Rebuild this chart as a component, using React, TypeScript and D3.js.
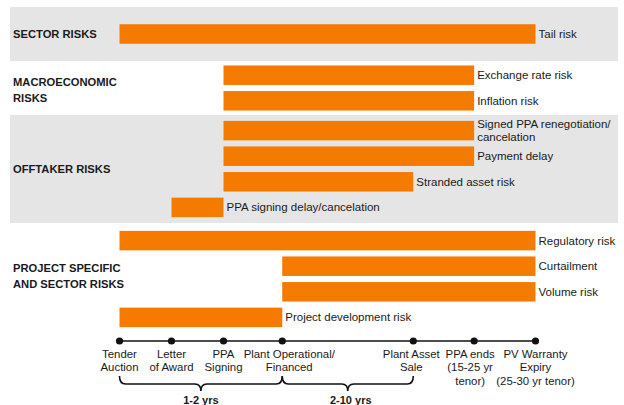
import React from "react";
import * as d3 from "d3";

// ---- Data ----
const milestoneNames = [
  "Tender Auction",
  "Letter of Award",
  "PPA Signing",
  "Plant Operational/Financed",
  "Plant Asset Sale",
  "PPA ends",
  "PV Warranty Expiry",
];
const milestoneLabelLines = [
  ["Tender", "Auction"],
  ["Letter", "of Award"],
  ["PPA", "Signing"],
  ["Plant Operational/", "Financed"],
  ["Plant Asset", "Sale"],
  ["PPA ends", "(15-25 yr", "tenor)"],
  ["PV Warranty", "Expiry", "(25-30 yr tenor)"],
];
// relative timeline position of each milestone (schematic units)
const milestoneTime = [0, 1, 2, 3.13, 5.65, 6.82, 8];

const groupNames = ["SECTOR RISKS", "MACROECONOMIC RISKS", "OFFTAKER RISKS", "PROJECT SPECIFIC AND SECTOR RISKS"];
const groupLabelLines = [
  ["SECTOR RISKS"],
  ["MACROECONOMIC", "RISKS"],
  ["OFFTAKER RISKS"],
  ["PROJECT SPECIFIC", "AND SECTOR RISKS"],
];

const riskNames = [
  "Tail risk",
  "Exchange rate risk",
  "Inflation risk",
  "Signed PPA renegotiation/cancelation",
  "Payment delay",
  "Stranded asset risk",
  "PPA signing delay/cancelation",
  "Regulatory risk",
  "Curtailment",
  "Volume risk",
  "Project development risk",
];
const riskLabelLines = [
  ["Tail risk"],
  ["Exchange rate risk"],
  ["Inflation risk"],
  ["Signed PPA renegotiation/", "cancelation"],
  ["Payment delay"],
  ["Stranded asset risk"],
  ["PPA signing delay/cancelation"],
  ["Regulatory risk"],
  ["Curtailment"],
  ["Volume risk"],
  ["Project development risk"],
];
const riskGroup = [0, 1, 1, 2, 2, 2, 2, 3, 3, 3, 3];
const riskStart = [0, 2, 2, 2, 2, 2, 1, 0, 3, 3, 0]; // milestone index
const riskEnd = [6, 5, 5, 5, 5, 4, 2, 6, 6, 6, 3]; // milestone index

const spanLabels = ["1-2 yrs", "2-10 yrs"];
const spanStart = [0, 3];
const spanEnd = [3, 4];

// ---- Layout / style ----
const W = 624;
const H = 405;
const ORANGE = "#f57a00";
const GRAY = "#e5e5e5";
const TEXT = "#1a1a1a";
const FONT = "'Liberation Sans', Arial, Helvetica, sans-serif";
const bandHeights = [54, 54, 108, 112];
const bandTop0 = 7;
const bandX0 = 10;
const bandX1 = 618;
const rowStep = 25.6;
const barH = 19.5;
const timelineY = 341;
const labelDx = [0, 0, 0, 7, -2, -4, 0];

export default function App() {
  const x = d3.scaleLinear().domain([0, 8]).range([119.5, 535.5]);

  const bandTops: number[] = [];
  let acc = bandTop0;
  bandHeights.forEach((h) => {
    bandTops.push(acc);
    acc += h;
  });

  const groupCounts = groupNames.map((_, g) => riskGroup.filter((r) => r === g).length);
  const rowInGroup = riskGroup.map((g, i) => riskGroup.slice(0, i).filter((r) => r === g).length);

  const barCenter = (i: number) => {
    const g = riskGroup[i];
    const c = bandTops[g] + bandHeights[g] / 2;
    const n = groupCounts[g];
    return c + (rowInGroup[i] - (n - 1) / 2) * rowStep;
  };

  const braceY0 = 376;
  const braceMid = 384;
  const braceTip = 391;
  const r = 6;
  const bracePath = (x0: number, x1: number) => {
    const m = (x0 + x1) / 2;
    const p = d3.path();
    p.moveTo(x0, braceY0);
    p.quadraticCurveTo(x0, braceMid, x0 + r, braceMid);
    p.lineTo(m - r, braceMid);
    p.quadraticCurveTo(m, braceMid, m, braceTip);
    p.quadraticCurveTo(m, braceMid, m + r, braceMid);
    p.lineTo(x1 - r, braceMid);
    p.quadraticCurveTo(x1, braceMid, x1, braceY0);
    return p.toString();
  };

  return (
    <svg
      width={W}
      height={H}
      style={{ position: "absolute", left: 0, top: 0, background: "#fff" }}
      fontFamily={FONT}
    >
      {/* bands */}
      {groupNames.map((g, gi) => (
        <rect
          key={g}
          x={bandX0}
          y={bandTops[gi]}
          width={bandX1 - bandX0}
          height={bandHeights[gi]}
          fill={gi % 2 === 0 ? GRAY : "#ffffff"}
        />
      ))}
      {/* group labels */}
      {groupLabelLines.map((lines, gi) => {
        const c = bandTops[gi] + bandHeights[gi] / 2 - (gi === 3 ? 3 : 0) + (gi === 1 ? 2 : 0);
        const lh = 15.5;
        return (
          <text key={gi} fontSize={11.2} fontWeight="bold" fill={TEXT}>
            {lines.map((l, li) => (
              <tspan key={li} x={13} y={c + (li - (lines.length - 1) / 2) * lh} dy="0.35em">
                {l}
              </tspan>
            ))}
          </text>
        );
      })}
      {/* bars */}
      {riskNames.map((name, i) => {
        const x0 = x(milestoneTime[riskStart[i]]);
        const x1 = x(milestoneTime[riskEnd[i]]);
        const cy = barCenter(i);
        const lines = riskLabelLines[i];
        return (
          <g key={name}>
            <rect x={x0} y={cy - barH / 2} width={x1 - x0} height={barH} fill={ORANGE} />
            <text fontSize={11.5} fill={TEXT}>
              {lines.map((l, li) => (
                <tspan key={li} x={x1 + 3} y={cy + (li - (lines.length - 1) / 2) * 13.4} dy="0.35em">
                  {l}
                </tspan>
              ))}
            </text>
          </g>
        );
      })}
      {/* timeline */}
      <line
        x1={x(milestoneTime[0])}
        x2={x(milestoneTime[milestoneTime.length - 1])}
        y1={timelineY}
        y2={timelineY}
        stroke="#111"
        strokeWidth={1.6}
      />
      {milestoneNames.map((m, i) => (
        <g key={m}>
          <circle cx={x(milestoneTime[i])} cy={timelineY} r={3.6} fill="#111" />
          <text fontSize={11.4} fill={TEXT} textAnchor="middle">
            {milestoneLabelLines[i].map((l, li) => (
              <tspan key={li} x={x(milestoneTime[i]) + labelDx[i]} y={354 + li * 13.5} dy="0.35em">
                {l}
              </tspan>
            ))}
          </text>
        </g>
      ))}
      {/* braces */}
      {spanLabels.map((s, i) => {
        const x0 = x(milestoneTime[spanStart[i]]);
        const x1 = x(milestoneTime[spanEnd[i]]);
        return (
          <g key={s}>
            <path d={bracePath(x0, x1)} fill="none" stroke="#111" strokeWidth={1.6} />
            <text x={(x0 + x1) / 2 + (i === 1 ? 3 : 0)} y={400} dy="0.35em" fontSize={11} fontWeight="bold" textAnchor="middle" fill={TEXT}>
              {s}
            </text>
          </g>
        );
      })}
    </svg>
  );
}
